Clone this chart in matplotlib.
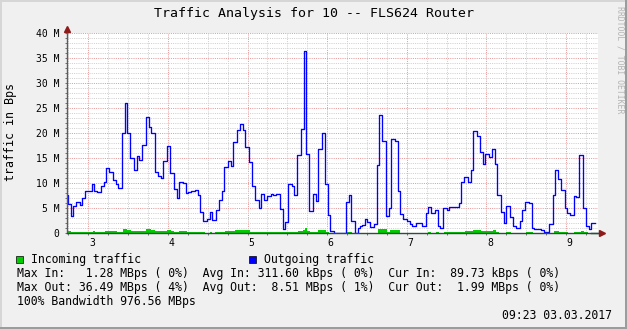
import matplotlib
matplotlib.use("Agg")
import matplotlib.pyplot as plt
from matplotlib.patches import Rectangle
from matplotlib.ticker import MultipleLocator
from matplotlib.transforms import ScaledTranslation

# outgoing traffic, MBps; each value holds from its start time (day of month) to the next
out_t = [2.737, 2.745, 2.787, 2.812, 2.849, 2.900, 2.925, 2.963, 3.050, 3.075,
         3.114, 3.164, 3.201, 3.226, 3.264, 3.315, 3.352, 3.377, 3.427, 3.465,
         3.490, 3.528, 3.578, 3.616, 3.641, 3.678, 3.729, 3.767, 3.792, 3.842,
         3.879, 3.918, 3.943, 3.993, 4.030, 4.080, 4.119, 4.144, 4.194, 4.231,
         4.256, 4.294, 4.345, 4.382, 4.407, 4.445, 4.495, 4.533, 4.558, 4.608,
         4.646, 4.683, 4.709, 4.759, 4.797, 4.822, 4.872, 4.910, 4.948, 4.973,
         5.023, 5.060, 5.098, 5.149, 5.174, 5.211, 5.249, 5.300, 5.325, 5.362,
         5.412, 5.450, 5.475, 5.513, 5.563, 5.588, 5.626, 5.676, 5.714, 5.739,
         5.777, 5.827, 5.864, 5.889, 5.940, 5.978, 6.015, 6.040, 6.090, 6.241,
         6.279, 6.305, 6.355, 6.392, 6.417, 6.442, 6.480, 6.505, 6.543, 6.593,
         6.631, 6.656, 6.693, 6.744, 6.782, 6.807, 6.857, 6.894, 6.920, 6.958,
         7.008, 7.045, 7.070, 7.121, 7.196, 7.246, 7.271, 7.310, 7.360, 7.397,
         7.422, 7.460, 7.511, 7.536, 7.661, 7.686, 7.724, 7.774, 7.812, 7.837,
         7.887, 7.925, 7.963, 7.988, 8.038, 8.075, 8.114, 8.139, 8.189, 8.226,
         8.251, 8.302, 8.340, 8.377, 8.427, 8.452, 8.490, 8.541, 8.578, 8.603,
         8.691, 8.729, 8.792, 8.842, 8.867, 8.904, 8.943, 8.993, 9.018, 9.055,
         9.106, 9.131, 9.169, 9.220, 9.256, 9.295, 9.320]
out_v = [7.6, 5.7, 3.3, 5.3, 6.1, 5.5, 6.9, 8.3, 9.7, 8.3,
         8.1, 9.3, 10.1, 12.9, 12.1, 10.5, 9.7, 8.9, 19.9, 26.1,
         19.9, 14.9, 12.5, 15.3, 14.5, 17.5, 23.3, 21.3, 20.1, 12.1,
         11.3, 10.9, 14.3, 17.3, 11.9, 8.7, 6.9, 10.1, 9.9, 7.9,
         8.1, 8.3, 8.5, 7.5, 4.1, 2.3, 2.7, 4.1, 2.5, 4.5,
         6.5, 8.3, 13.1, 14.3, 13.3, 18.1, 20.7, 21.9, 20.7, 17.1,
         14.1, 9.3, 6.5, 4.9, 7.7, 6.5, 7.3, 7.7, 7.5, 7.7,
         4.7, 0.7, 2.1, 9.7, 9.3, 7.5, 15.5, 20.9, 36.4, 15.7,
         4.3, 7.7, 6.3, 16.7, 19.9, 9.7, 3.5, 0.3, 0.0, 6.1,
         7.5, 2.3, 0.0, 0.9, 1.3, 1.5, 2.7, 2.1, 1.1, 1.7,
         13.5, 23.7, 18.3, 3.3, 4.9, 18.7, 18.3, 8.3, 3.7, 2.7,
         2.3, 1.7, 1.3, 1.9, 1.3, 3.9, 5.1, 3.9, 4.5, 1.3,
         0.9, 4.9, 4.5, 5.1, 5.9, 10.1, 11.1, 10.1, 12.5, 20.5,
         19.3, 16.1, 13.7, 15.7, 15.1, 16.7, 13.7, 7.5, 4.1, 1.9,
         5.3, 3.1, 1.3, 0.9, 2.3, 4.5, 6.1, 5.9, 0.9, 0.7,
         0.5, 0.1, 1.7, 7.5, 12.5, 10.7, 8.5, 4.9, 3.9, 3.5,
         7.3, 7.1, 15.5, 4.9, 1.3, 0.7, 1.9]

# incoming traffic, MBps
in_t = [2.736, 2.779, 2.820, 3.063, 3.088, 3.214, 3.364, 3.440, 3.490, 3.533,
        3.729, 3.791, 3.842, 3.992, 4.043, 4.077, 4.136, 4.240, 4.470, 4.533,
        4.554, 4.595, 4.721, 4.847, 5.035, 5.408, 5.513, 5.638, 5.701, 5.726,
        5.751, 5.785, 5.889, 5.982, 6.024, 6.246, 6.309, 6.643, 6.749, 6.790,
        6.912, 7.268, 7.309, 7.372, 7.402, 7.469, 7.729, 7.833, 7.937, 8.084,
        8.126, 8.163, 8.247, 8.310, 8.499, 8.583, 8.854, 8.917, 9.023, 9.106,
        9.190, 9.231, 9.274]
in_v = [0.27, 0.13, 0.2, 0.33, 0.2, 0.33, 0.2, 0.67, 0.47, 0.33,
        0.73, 0.53, 0.33, 0.47, 0.27, 0.2, 0.33, 0.2, 0.0, 0.2,
        0.0, 0.2, 0.33, 0.53, 0.2, 0.13, 0.2, 0.4, 0.6, 0.9,
        0.4, 0.2, 0.53, 0.2, 0.0, 0.2, 0.0, 0.7, 0.2, 0.53,
        0.0, 0.2, 0.0, 0.2, 0.0, 0.2, 0.33, 0.53, 0.33, 0.53,
        0.2, 0.0, 0.2, 0.0, 0.2, 0.0, 0.33, 0.2, 0.0, 0.2,
        0.33, 0.2, 0.0]
t_end = 9.370

day_ticks = [3, 4, 5, 6, 7, 8, 9]
y_ticks = [0, 5, 10, 15, 20, 25, 30, 35, 40]
y_labels = ["0", "5 M", "10 M", "15 M", "20 M", "25 M", "30 M", "35 M", "40 M"]

title = "Traffic Analysis for 10 -- FLS624 Router"
legend_in = "Incoming traffic"
legend_out = "Outgoing traffic"
stat_rows = [
    "Max In:   1.28 MBps ( 0%)  Avg In: 311.60 kBps ( 0%)  Cur In:  89.73 kBps ( 0%)",
    "Max Out: 36.49 MBps ( 4%)  Avg Out:  8.51 MBps ( 1%)  Cur Out:  1.99 MBps ( 0%)",
    "100% Bandwidth 976.56 MBps",
]
stamp = "09:23 03.03.2017"

MONO = "DejaVu Sans Mono"
GREEN = "#00CC00"
BLUE = "#0000FF"
AXIS = "#2C4D43"
W, H = 627, 329


def px(x, y):
    return x / W, 1 - y / H


fig = plt.figure(figsize=(W / 100, H / 100), dpi=100, facecolor="#F0F0F0")
ax = fig.add_axes([67 / W, 1 - 232.7 / H, (598 - 67) / W, (232.7 - 33.3) / H])
ax.set_facecolor("white")
ax.set_xlim(2.732, 9.403)
ax.set_ylim(0, 40)

ax.fill_between(in_t + [t_end], in_v + [in_v[-1]], step="post",
                color=GREEN, lw=0, zorder=2)
ax.step(out_t + [t_end], out_v + [out_v[-1]], where="post",
        color=BLUE, lw=0.95, zorder=2.2)

# grid: 6h / 1M minor, day / 5M major
ax.set_xticks(day_ticks)
ax.xaxis.set_minor_locator(MultipleLocator(0.25))
ax.set_yticks(y_ticks, labels=y_labels)
ax.yaxis.set_minor_locator(MultipleLocator(1))
ax.set_axisbelow(True)
dots = (0, (1, 1.2))
ax.grid(which="minor", color="#CFCFCF", linestyle=dots, lw=0.72)
ax.grid(which="major", color="#E59A9A", linestyle=dots, lw=0.72)

for side in ("top", "right"):
    ax.spines[side].set_visible(False)
ax.spines["bottom"].set_color(AXIS)
ax.spines["left"].set_color("#5C5C5C")
ax.spines["bottom"].set_linewidth(1.0)
ax.spines["left"].set_linewidth(1.0)
ax.spines["bottom"].set_zorder(3)

ax.tick_params(which="both", direction="out", length=1.5, width=0.7,
               color="#707070", labelsize=7)
ax.tick_params(axis="y", pad=4.0)
ax.tick_params(axis="x", pad=2.3)
for lab in ax.get_xticklabels() + ax.get_yticklabels():
    lab.set_family(MONO)
shift = ScaledTranslation(3.5 / 100, 0, fig.dpi_scale_trans)
for lab in ax.get_xticklabels():
    lab.set_transform(lab.get_transform() + shift)

# axis arrows
up = ax.transAxes + ScaledTranslation(0, 4 / 100, fig.dpi_scale_trans)
right = ax.transAxes + ScaledTranslation(4 / 100, 0, fig.dpi_scale_trans)
ax.plot([0, 0], [0.98, 1], color="#5C5C5C", lw=1.0, transform=up, clip_on=False)
ax.plot([0], [1], marker="^", ms=4, color="#8E1A1A", mec="#8E1A1A",
        transform=up, clip_on=False)
ax.plot([0.98, 1], [0, 0], color=AXIS, lw=1.0, transform=right, clip_on=False)
ax.plot([1], [0], marker=">", ms=4, color="#8E1A1A", mec="#8E1A1A",
        transform=right, clip_on=False)

# texts
fig.text(*px(313.5, 14), title, ha="center", va="center", family=MONO, fontsize=9.5)
fig.text(*px(11, 132.3), "traffic in Bps", rotation=90, ha="center", va="center",
         family=MONO, fontsize=8.4)
fig.text(*px(620, 6), "RRDTOOL / TOBI OETIKER", rotation=270, ha="center", va="top",
         family=MONO, fontsize=5.9, color="#B4B4B4")

for x0, color, label in ((15.8, GREEN, legend_in), (248.8, BLUE, legend_out)):
    fig.add_artist(Rectangle(px(x0, 263.3), 7.2 / W, 7.4 / H, transform=fig.transFigure,
                             facecolor=color, edgecolor="black", lw=0.5))
    fig.text(*px(x0 + 15.4, 259.5), label, ha="left", va="center",
             family=MONO, fontsize=8.3)

for i, row in enumerate(stat_rows):
    fig.text(*px(16.8, 273.5 + 14.2 * i), row, ha="left", va="center",
             family=MONO, fontsize=8.3)
fig.text(*px(611.5, 315.8), stamp, ha="right", va="center", family=MONO, fontsize=8.3)

# 3D frame of the image
fig.add_artist(Rectangle(px(0, 329), 627 / W, 2 / H, transform=fig.transFigure,
                         facecolor="#9C9C9C", lw=0))
fig.add_artist(Rectangle(px(625, 329), 2 / W, 329 / H, transform=fig.transFigure,
                         facecolor="#9C9C9C", lw=0))
fig.add_artist(Rectangle(px(0, 2), 625 / W, 2 / H, transform=fig.transFigure,
                         facecolor="#D6D6D6", lw=0))
fig.add_artist(Rectangle(px(0, 327), 2 / W, 327 / H, transform=fig.transFigure,
                         facecolor="#D6D6D6", lw=0))

fig.savefig("out.png", dpi=100, facecolor=fig.get_facecolor())
